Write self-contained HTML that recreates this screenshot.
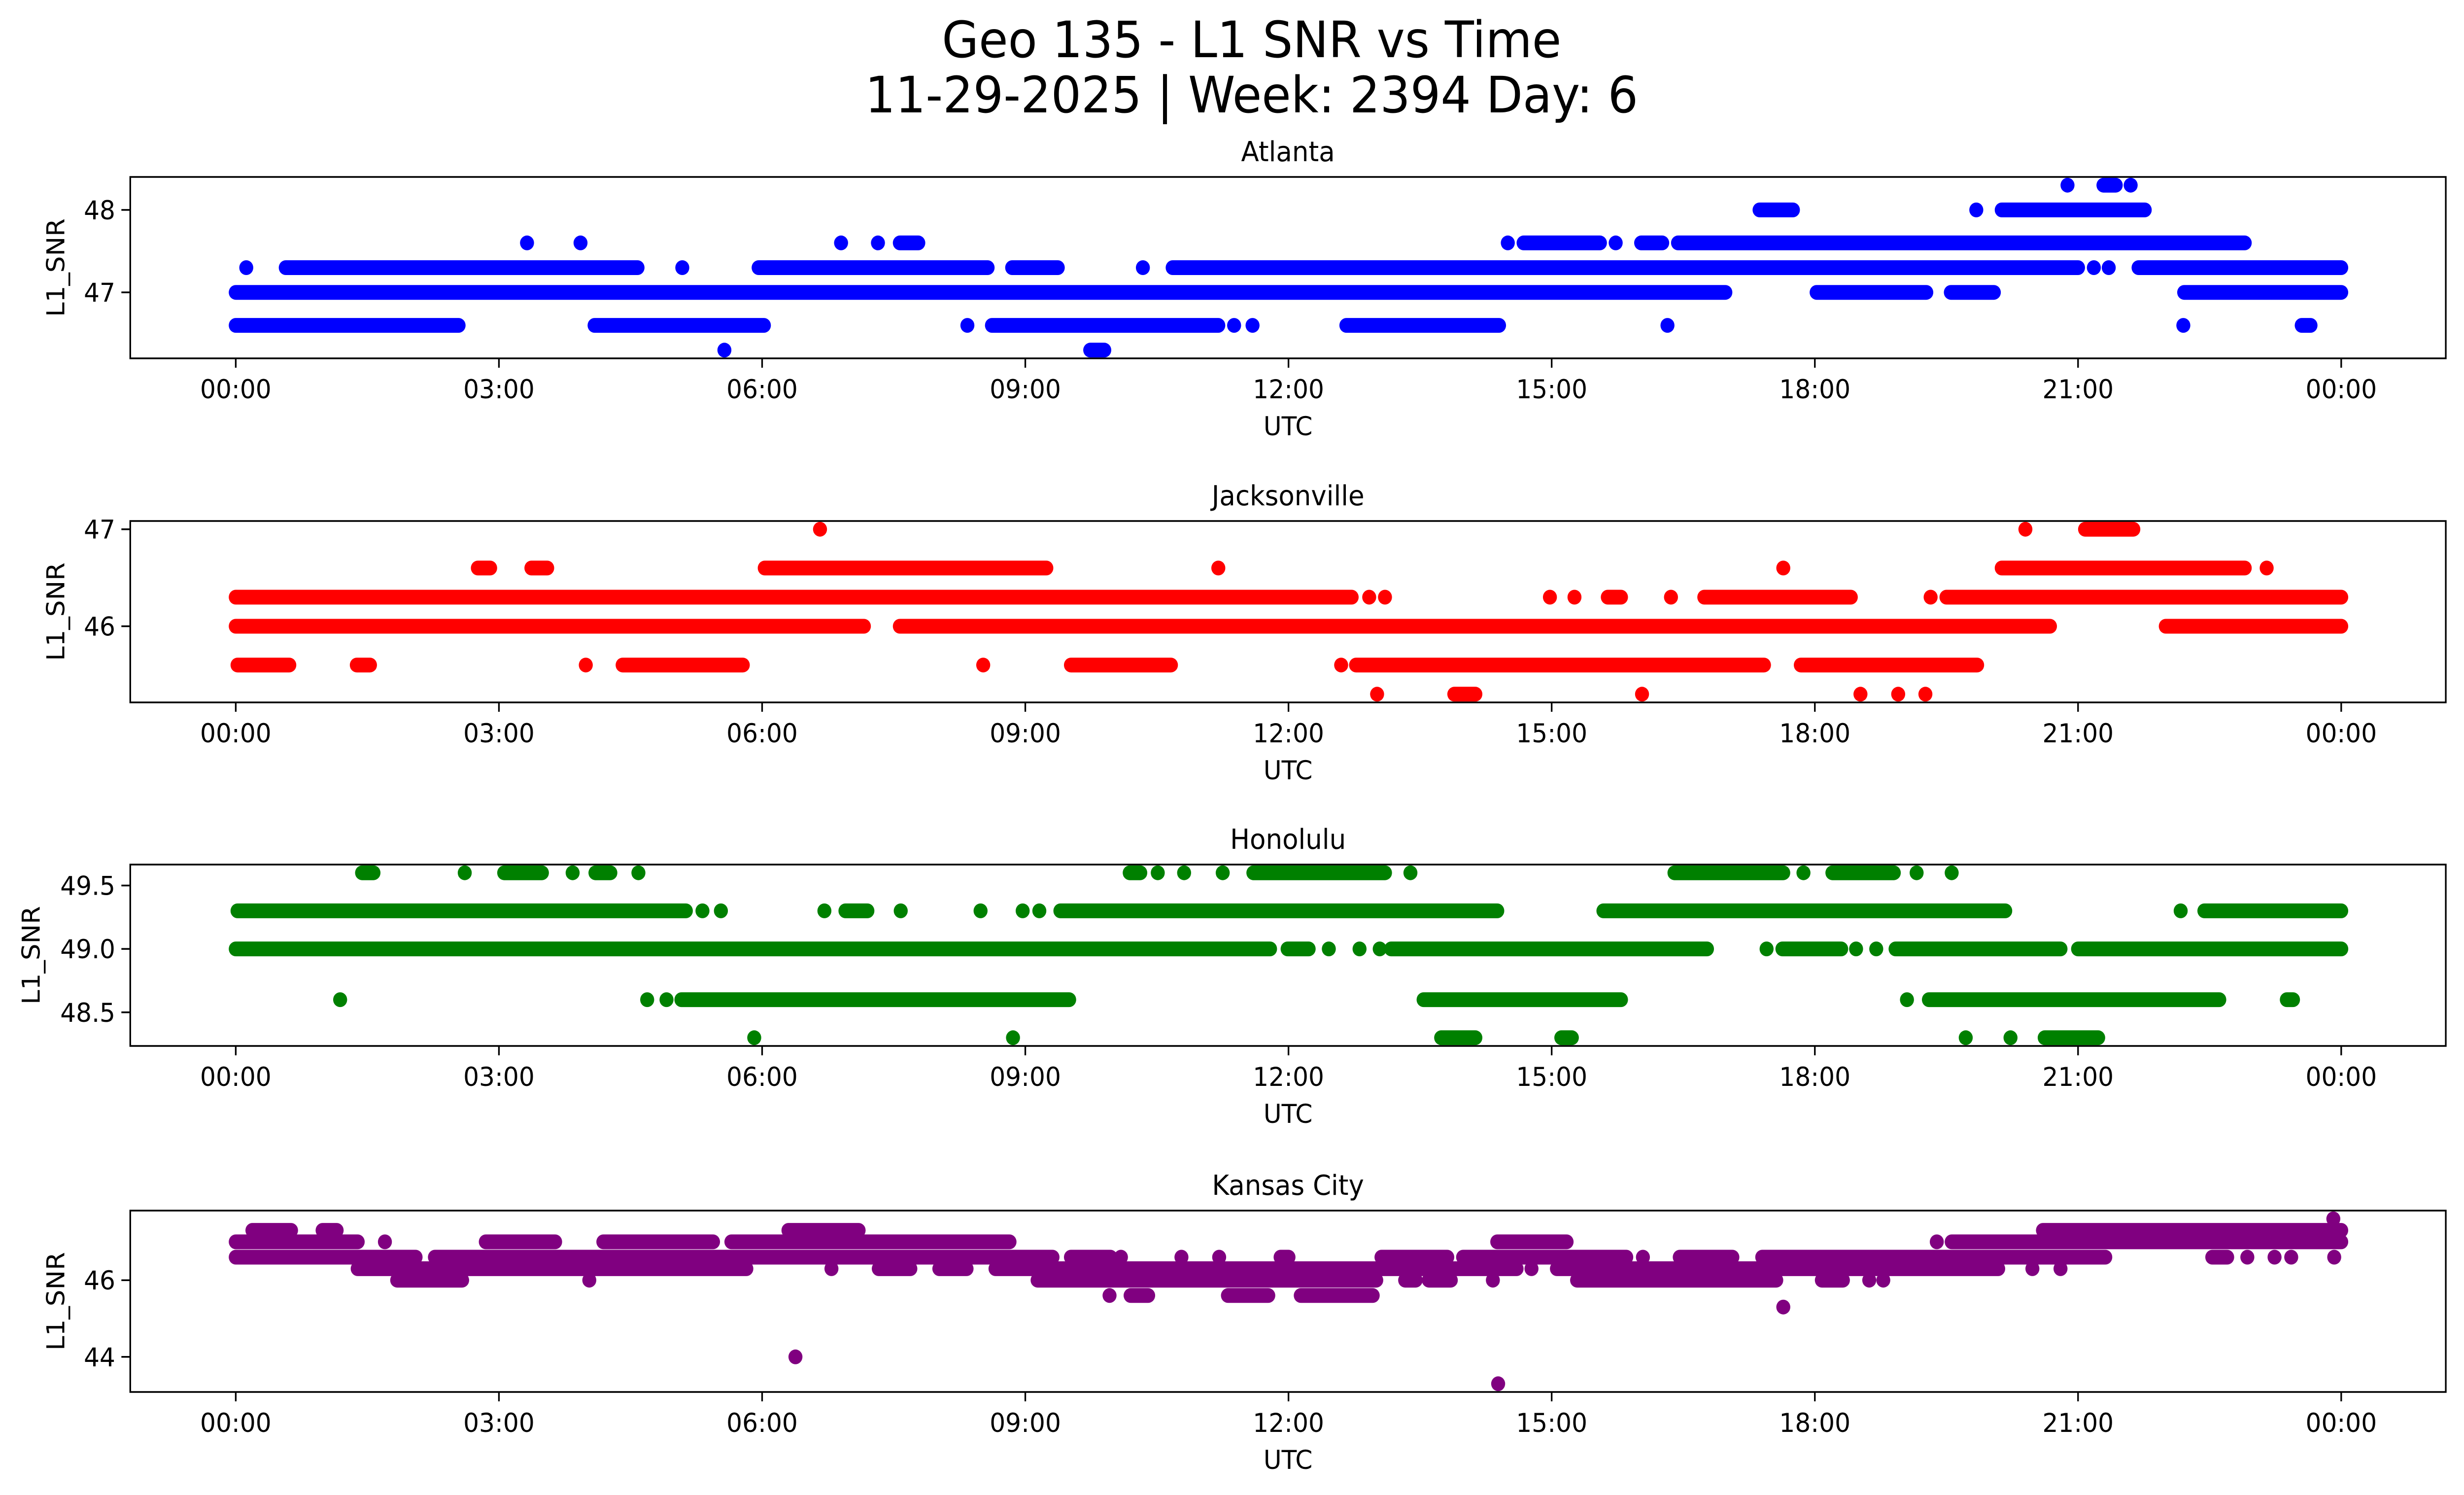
<!DOCTYPE html>
<html><head><meta charset="utf-8">
<style>
html,body{margin:0;padding:0;background:#fff;width:100%;height:100%;overflow:hidden;}
svg{display:block;width:100vw;height:100vh;font-family:"DejaVu Sans","Liberation Sans",sans-serif;}
</style></head>
<body>
<svg id="fig" viewBox="0 0 5278 3033" preserveAspectRatio="none" xmlns="http://www.w3.org/2000/svg">
<rect width="5278" height="3033" fill="#fff"/>
<text x="2681" y="116" font-size="102" text-anchor="middle">Geo 135 - L1 SNR vs Time</text>
<text x="2681" y="228" font-size="102" text-anchor="middle">11-29-2025 | Week: 2394 Day: 6</text>
<g id="panels"></g>
</svg>
<script>
// Shared x-axis
const xTickHours = [0, 3, 6, 9, 12, 15, 18, 21, 24];
const xTickLabels = ["00:00","03:00","06:00","09:00","12:00","15:00","18:00","21:00","00:00"];

// Panel titles / colors
const stationNames = ["Atlanta", "Jacksonville", "Honolulu", "Kansas City"];
const stationColors = ["#0000ff", "#ff0000", "#008000", "#800080"];

// y ticks per station
const atlantaTicks = [47, 48];
const jacksonvilleTicks = [46, 47];
const honoluluTicks = [48.5, 49.0, 49.5];
const kansasTicks = [44, 46];
const honoluluTickLabels = ["48.5", "49.0", "49.5"];

// Data runs: [SNR level, start hour, end hour] (dense consecutive samples)
const atlantaRuns = [
 [48.3,20.88,20.88],[48.3,21.29,21.43],[48.3,21.6,21.6],
 [48.0,17.37,17.75],[48.0,19.84,19.84],[48.0,20.13,21.76],
 [47.6,3.32,3.32],[47.6,3.93,3.93],[47.6,6.9,6.9],[47.6,7.32,7.32],[47.6,7.57,7.78],
 [47.6,14.5,14.5],[47.6,14.68,15.55],[47.6,15.73,15.73],[47.6,16.02,16.26],[47.6,16.44,22.9],
 [47.3,0.12,0.12],[47.3,0.57,4.58],[47.3,5.09,5.09],[47.3,5.96,8.57],[47.3,8.85,9.37],
 [47.3,10.34,10.34],[47.3,10.68,21.0],[47.3,21.18,21.18],[47.3,21.35,21.35],[47.3,21.69,24.0],
 [47.0,0.0,16.98],[47.0,18.02,19.27],[47.0,19.55,20.04],[47.0,22.21,24.0],
 [46.6,0.0,2.54],[46.6,4.09,6.02],[46.6,8.34,8.34],[46.6,8.62,11.2],[46.6,11.38,11.38],
 [46.6,11.59,11.59],[46.6,12.66,14.4],[46.6,16.32,16.32],[46.6,22.2,22.2],[46.6,23.55,23.65],
 [46.3,5.57,5.57],[46.3,9.74,9.9]
];
const jacksonvilleRuns = [
 [47.0,6.66,6.66],[47.0,20.4,20.4],[47.0,21.08,21.63],
 [46.6,2.76,2.9],[46.6,3.37,3.55],[46.6,6.03,9.24],[46.6,11.2,11.2],[46.6,17.64,17.64],
 [46.6,20.13,22.9],[46.6,23.15,23.15],
 [46.3,0.0,12.72],[46.3,12.92,12.92],[46.3,13.1,13.1],[46.3,14.98,14.98],[46.3,15.26,15.26],
 [46.3,15.64,15.79],[46.3,16.36,16.36],[46.3,16.74,18.41],[46.3,19.32,19.32],[46.3,19.5,24.0],
 [46.0,0.0,7.16],[46.0,7.57,20.68],[46.0,22.0,24.0],
 [45.6,0.02,0.61],[45.6,1.38,1.53],[45.6,3.99,3.99],[45.6,4.41,5.78],[45.6,8.52,8.52],
 [45.6,9.52,10.66],[45.6,12.6,12.6],[45.6,12.77,17.42],[45.6,17.84,19.85],
 [45.3,13.01,13.01],[45.3,13.89,14.13],[45.3,16.03,16.03],[45.3,18.52,18.52],[45.3,18.95,18.95],[45.3,19.26,19.26]
];
const honoluluRuns = [
 [49.6,1.44,1.57],[49.6,2.61,2.61],[49.6,3.06,3.49],[49.6,3.84,3.84],[49.6,4.1,4.27],[49.6,4.59,4.59],
 [49.6,10.19,10.31],[49.6,10.51,10.51],[49.6,10.81,10.81],[49.6,11.25,11.25],[49.6,11.6,13.1],
 [49.6,13.39,13.39],[49.6,16.4,17.64],[49.6,17.87,17.87],[49.6,18.2,18.9],[49.6,19.16,19.16],[49.6,19.56,19.56],
 [49.3,0.02,5.13],[49.3,5.32,5.32],[49.3,5.53,5.53],[49.3,6.71,6.71],[49.3,6.95,7.2],[49.3,7.58,7.58],
 [49.3,8.49,8.49],[49.3,8.97,8.97],[49.3,9.16,9.16],[49.3,9.4,14.38],[49.3,15.59,20.17],
 [49.3,22.17,22.17],[49.3,22.44,24.0],
 [49.0,0.0,11.79],[49.0,11.99,12.23],[49.0,12.46,12.46],[49.0,12.81,12.81],[49.0,13.04,13.04],
 [49.0,13.17,16.77],[49.0,17.45,17.45],[49.0,17.63,18.3],[49.0,18.47,18.47],[49.0,18.7,18.7],
 [49.0,18.92,20.8],[49.0,21.0,24.0],
 [48.6,1.19,1.19],[48.6,4.69,4.69],[48.6,4.91,4.91],[48.6,5.08,9.5],[48.6,13.54,15.79],
 [48.6,19.05,19.05],[48.6,19.3,22.61],[48.6,23.38,23.45],
 [48.3,5.91,5.91],[48.3,8.86,8.86],[48.3,13.74,14.13],[48.3,15.11,15.23],[48.3,19.72,19.72],
 [48.3,20.23,20.23],[48.3,20.62,21.23]
];
const kansasRuns = [
 [47.6,23.91,23.91],
 [47.3,0.19,0.63],[47.3,0.99,1.15],[47.3,6.3,7.1],[47.3,20.6,24.0],
 [47.0,0.0,1.39],[47.0,1.7,1.7],[47.0,2.85,3.64],[47.0,4.19,5.44],[47.0,5.65,8.82],
 [47.0,14.38,15.17],[47.0,19.39,19.39],[47.0,19.56,24.0],
 [46.6,0.0,2.05],[46.6,2.27,9.31],[46.6,9.52,9.97],[46.6,10.09,10.09],[46.6,10.78,10.78],
 [46.6,11.21,11.21],[46.6,11.91,12.0],[46.6,13.06,13.81],[46.6,13.99,15.85],[46.6,16.04,16.04],
 [46.6,16.46,17.06],[46.6,17.4,21.31],[46.6,22.53,22.7],[46.6,22.93,22.93],[46.6,23.24,23.24],
 [46.6,23.43,23.43],[46.6,23.92,23.92],
 [46.3,1.39,5.82],[46.3,6.79,6.79],[46.3,7.33,7.69],[46.3,8.02,8.33],[46.3,8.66,14.6],
 [46.3,14.77,14.77],[46.3,15.06,20.09],[46.3,20.48,20.48],[46.3,20.8,20.8],
 [46.0,1.84,2.58],[46.0,4.03,4.03],[46.0,9.14,13.0],[46.0,13.33,13.45],[46.0,13.6,13.85],
 [46.0,14.33,14.33],[46.0,15.29,17.56],[46.0,18.08,18.32],[46.0,18.62,18.62],[46.0,18.78,18.78],
 [45.6,9.96,9.96],[45.6,10.2,10.4],[45.6,11.31,11.77],[45.6,12.14,12.96],
 [45.3,17.64,17.64],
 [44.0,6.38,6.38],
 [43.3,14.39,14.39]
];

const allRuns = [atlantaRuns, jacksonvilleRuns, honoluluRuns, kansasRuns];
const allTicks = [atlantaTicks, jacksonvilleTicks, honoluluTicks, kansasTicks];
const yLabelX = [120, 120, 67, 120];

const NS = "http://www.w3.org/2000/svg";
const AX_L = 279, AX_R = 5239, AX_H = 368, R = 15;
const panelTops = [359, 1057, 1754, 2456];
const X0 = 505, X24 = 5015;
function xScale(h){ return X0 + (X24 - X0) * h / 24; }
function mk(tag, attrs, parent){
  const e = document.createElementNS(NS, tag);
  for (const k in attrs) e.setAttribute(k, attrs[k]);
  parent.appendChild(e);
  return e;
}
const root = document.getElementById("panels");
const slug = s => s.toLowerCase().replace(/\s+/g, "-");

allRuns.forEach((runs, i) => {
  const top = panelTops[i], bot = top + AX_H;
  const name = slug(stationNames[i]);
  const g = mk("g", {}, root);
  
  
  let mn = Infinity, mx = -Infinity;
  runs.forEach(r => { mn = Math.min(mn, r[0]); mx = Math.max(mx, r[0]); });
  const pad = (mx - mn) * 0.05, y0 = mn - pad, y1 = mx + pad;
  const yScale = v => bot - (v - y0) / (y1 - y0) * AX_H;

  const sg = mk("g", {fill: stationColors[i]}, g);
  
  
  runs.forEach(r => {
    const xa = xScale(r[1]) - R, xb = xScale(r[2]) + R;
    const rc = mk("rect", {x: xa.toFixed(1), y: (yScale(r[0]) - R).toFixed(1), width: (xb - xa).toFixed(1), height: 2 * R, rx: R, ry: R}, sg);
    
    
  });

  const fr = mk("rect", {x: AX_L, y: top, width: AX_R - AX_L, height: AX_H, fill: "none", stroke: "#000", "stroke-width": 3.5}, g);
  
  

  allTicks[i].forEach((t, k) => {
    const y = yScale(t);
    const tl = mk("line", {x1: AX_L - 19, x2: AX_L, y1: y, y2: y, stroke: "#000", "stroke-width": 3.5}, g);
    
    
    const lbl = (i === 2) ? honoluluTickLabels[k] : String(t);
    const tx = mk("text", {x: AX_L - 32, y: y + 19, "font-size": 53, "text-anchor": "end"}, g);
    tx.textContent = lbl;
    
    
  });

  xTickHours.forEach((h, k) => {
    const x = xScale(h);
    const tl = mk("line", {x1: x, x2: x, y1: bot, y2: bot + 19, stroke: "#000", "stroke-width": 3.5}, g);
    
    
    const tx = mk("text", {x: x, y: bot + 81, "font-size": 53, "text-anchor": "middle"}, g);
    tx.textContent = xTickLabels[k];
    
    
  });

  const xl = mk("text", {x: (AX_L + AX_R) / 2, y: bot + 156, "font-size": 53, "text-anchor": "middle"}, g);
  xl.textContent = "UTC";
  
  
  const cy = top + AX_H / 2;
  const lx = yLabelX[i] + 18;
  const yl = mk("text", {x: lx, y: cy, "font-size": 53, "text-anchor": "middle", transform: `rotate(-90 ${lx} ${cy})`}, g);
  yl.textContent = "L1_SNR";
  
  
  const tt = mk("text", {x: (AX_L + AX_R) / 2, y: top - 32, "font-size": 56, "text-anchor": "middle"}, g);
  tt.textContent = stationNames[i];
  
  
});
</script>
</body></html>
